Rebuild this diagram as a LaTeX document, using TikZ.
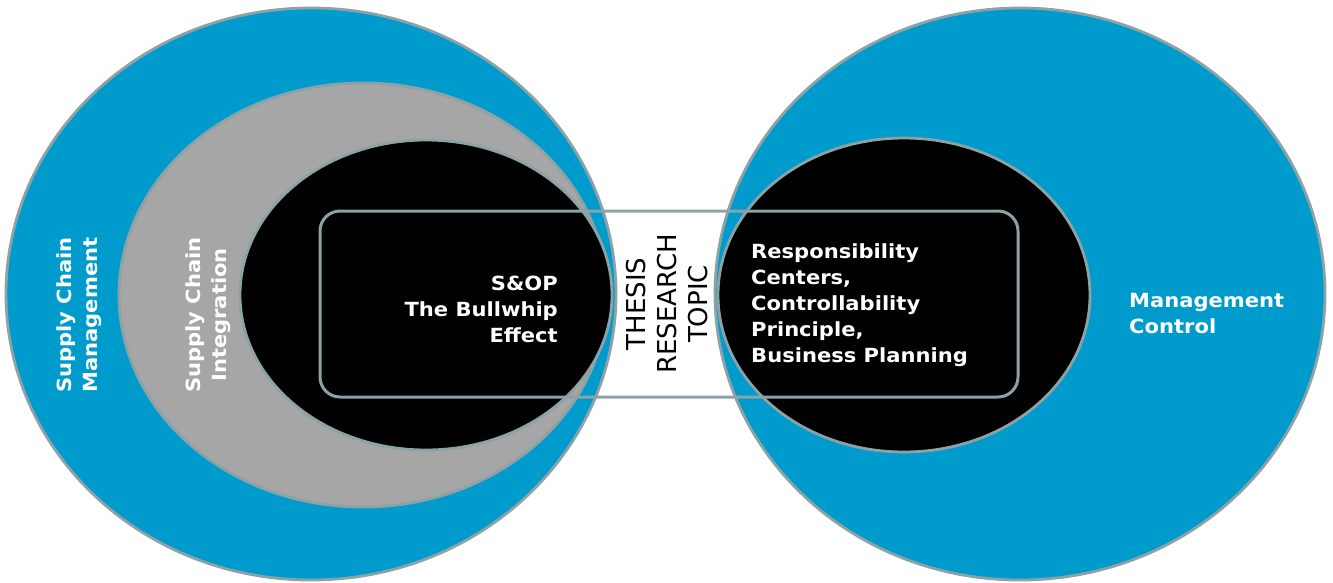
\documentclass[tikz,border=0pt]{standalone}
\usepackage{fontspec}
\setmainfont{DejaVu Sans}
\newfontfamily\labfont[FakeStretch=1.08]{DejaVu Sans}
\definecolor{cblue}{RGB}{0,155,205}
\definecolor{cgray}{RGB}{166,166,166}
\definecolor{cline}{RGB}{140,162,166}
\tikzset{
  ring/.style={draw=cline, line width=2.8pt},
  lab/.style={text=white, font=\labfont\bfseries\fontsize{19.5}{26}\selectfont, inner sep=0pt},
  thesis/.style={text=black, font=\fontsize{26}{31}\selectfont, inner sep=0pt, align=center, rotate=90},
  frame/.style={draw=cline, line width=3pt, rounded corners=20pt}
}
\begin{document}
\begin{tikzpicture}[x=1pt,y=-1pt]
\useasboundingbox (0,0) rectangle (1333,582);
% left group
\path[ring, fill=cblue] (311,294) ellipse [x radius=305, y radius=286];
\path[ring, fill=cgray] (363,295) ellipse [x radius=244, y radius=212];
\path[ring, fill=black] (426,295) ellipse [x radius=186, y radius=155];
% right group
\path[ring, fill=cblue] (1020,294) ellipse [x radius=305, y radius=286];
\path[ring, fill=black] (904,295) ellipse [x radius=186, y radius=157];
% frame
\draw[frame] (320,211) rectangle (1018,397);
% texts
\node[thesis] (thesis) at (667,304) {THESIS\\RESEARCH\\TOPIC};
\node[lab, align=center, rotate=90] (scm) at (79,315) {Supply Chain\\Management};
\node[lab, align=center, rotate=90] (sci) at (208,315) {Supply Chain\\Integration};
\node[lab, align=right, anchor=east] (sop) at (558,309) {S\&OP\\The Bullwhip\\Effect};
\node[lab, align=left, anchor=west] (resp) at (751,305) {Responsibility\\Centers,\\Controllability\\Principle,\\Business Planning};
\node[lab, align=left, anchor=west] (mc) at (1129,314) {Management\\Control};
\end{tikzpicture}
\end{document}
